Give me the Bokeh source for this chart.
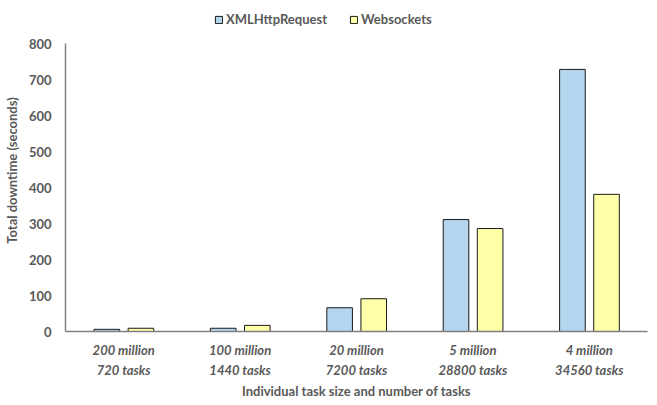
from bokeh.plotting import figure
from bokeh.models import ColumnDataSource, FactorRange, Range1d, Legend, LegendItem, SingleIntervalTicker
from bokeh.transform import dodge
from bokeh.embed import file_html
from bokeh.resources import INLINE

categories = ["200 million\n720 tasks", "100 million\n1440 tasks", "20 million\n7200 tasks",
              "5 million\n28800 tasks", "4 million\n34560 tasks"]
xhr = [6, 9, 66, 311, 728]
websockets = [9, 17, 91, 286, 381]
series_names = ["XMLHttpRequest", "Websockets"]
y_max = 800

src = ColumnDataSource(dict(cat=categories, xhr=xhr, ws=websockets))

FONT = "Lato"
GRAY = "#595959"

FRAME_H = 322  # frame extends above the axis top to host the legend
p = figure(x_range=FactorRange(*categories, range_padding=0),
           y_range=Range1d(0, y_max * FRAME_H / 288),
           frame_width=582, frame_height=FRAME_H, output_backend="svg", toolbar_location=None,
           min_border_left=58, min_border_right=1, min_border_bottom=20, min_border_top=9)

r1 = p.vbar(x=dodge("cat", -0.145, range=p.x_range), top="xhr", width=0.22, source=src,
            fill_color="#B4D5EE", line_color="#1a1a1a", line_width=1)
r2 = p.vbar(x=dodge("cat", 0.148, range=p.x_range), top="ws", width=0.22, source=src,
            fill_color="#FFFFAA", line_color="#1a1a1a", line_width=1)

p.xgrid.visible = False
p.ygrid.visible = False
p.outline_line_color = None

p.yaxis.ticker = SingleIntervalTicker(interval=100)
p.yaxis.bounds = (0, y_max)
for ax in (p.xaxis[0], p.yaxis[0]):
    ax.axis_line_color = "#7f7f7f"
    ax.axis_line_width = 1.5
    ax.major_tick_line_color = None
    ax.minor_tick_line_color = None
    ax.major_tick_out = 0
    ax.major_tick_in = 0
    ax.minor_tick_out = 0
    ax.major_label_text_font = FONT
    ax.major_label_text_font_style = "bold"
    ax.major_label_text_color = GRAY
    ax.major_label_text_font_size = "13px"
    ax.axis_label_text_font = FONT
    ax.axis_label_text_font_style = "bold"
    ax.axis_label_text_color = GRAY
    ax.axis_label_text_font_size = "13px"

p.xaxis.major_label_text_font_style = "bold italic"
p.xaxis.major_label_standoff = 10
p.xaxis.major_label_text_line_height = 1.25
p.xaxis.axis_label = "Individual task size and number of tasks"
p.xaxis.axis_label_standoff = 2
p.yaxis.major_label_standoff = 14
p.yaxis.axis_label = "Total downtime (seconds)"
p.yaxis.axis_label_standoff = 6

legend = Legend(items=[LegendItem(label=series_names[0], renderers=[r1]),
                       LegendItem(label=series_names[1], renderers=[r2])],
                orientation="horizontal", location=(149, 304),
                label_text_font=FONT, label_text_font_style="bold", label_text_color=GRAY,
                label_text_font_size="13px", glyph_width=9, glyph_height=9,
                spacing=22, label_standoff=3, border_line_color=None,
                background_fill_alpha=0, padding=2, margin=0)
p.add_layout(legend)

open("out.html", "w").write(file_html(p, INLINE))
